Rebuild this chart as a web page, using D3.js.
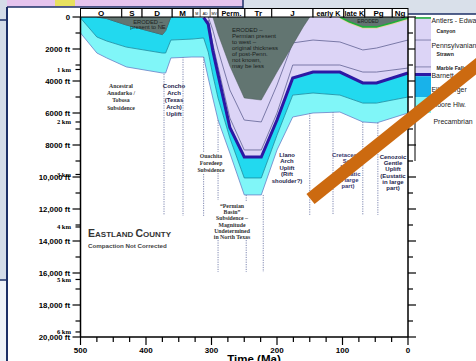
<!DOCTYPE html>
<html><head><meta charset="utf-8">
<script src="https://cdn.jsdelivr.net/npm/d3@7"></script>
<style>body{margin:0;background:#fff}svg{display:block}</style>
</head><body>
<svg id="c" width="476" height="361"></svg>
<script>
// ---- burial history, Eastland County: [age Ma, depth ft] ----
const topEllenburger = [[500,0],[475,0],[460,100],[430,500],[375,1100],[370,850],[362,0],[330,0],[312,30],[305,450],[298,2100],[290,3600],[272,6900],[250,8750],[224,8750],[200,6440],[176,3810],[145,3440],[104,3440],[69,4120],[48,4120],[0,3500]];
const baseEllenburger = [[500,60],[475,1250],[460,1500],[430,1880],[375,2250],[370,2250],[362,1440],[330,1380],[312,1310],[305,2190],[298,3620],[290,5060],[272,7560],[250,10060],[224,10060],[200,7380],[176,4880],[145,4750],[104,4880],[69,5380],[48,5380],[0,5000]];
const topPrecambrian = [[500,1000],[475,2250],[460,2560],[430,3120],[375,3500],[370,3500],[362,2560],[330,2500],[312,2500],[305,3810],[298,5060],[290,6440],[272,8500],[250,11120],[224,11120],[200,8310],[176,6250],[145,6000],[104,5940],[69,6560],[48,6620],[0,6000]];
const canyonBase = [[305,0],[298,810],[290,2060],[272,4560],[250,6440],[224,6560],[200,4250],[176,1620],[145,1440],[104,1560],[69,2060],[48,1940],[0,1440]];
const marbleFallsTop = [[305,190],[298,1690],[290,3120],[272,6310],[250,8310],[224,8310],[200,6000],[176,3000],[145,3000],[104,3000],[69,3440],[48,3440],[0,3190]];
const erodedNE = [[475,0],[460,100],[430,500],[375,1100],[370,850],[362,0]];
const erodedPostPenn = [[305,0],[298,0],[290,1060],[272,3060],[250,5060],[224,5190],[200,3440],[176,1750],[160,620],[150,0]];
const erodedCret = [[104,0],[90,300],[69,620],[48,620],[24,360],[0,60]];

// geologic time scale header
const periods = ["O","S","D","M","","Perm.","Tr","J","early K","late K","Pg","Ng"];
const periodBounds = [500,437,406,360,328,290,249,208,145,98,66,24,0];

// axis ticks
const ftTicks = [0,2000,4000,6000,8000,10000,12000,14000,16000,18000,20000];
const ftLabels = ["0","2000 ft","4000 ft","6000 ft","8000 ft","10,000 ft","12,000 ft","14,000 ft","16,000 ft","18,000 ft","20,000 ft"];
const kmTicks = [1,2,3,4,5,6];
const timeTicks = [500,400,300,200,100,0];

// tectonic episodes: dotted guides [age, top ft, bottom ft]
const guides = [[372.5,3560,12370],[343.5,2500,12430],[312,2500,8430],[312,9810,12430],[290,6440,8440],[290,9750,11440],[290,13940,15940],[247,11120,11560],[247,13940,15940],[221,11120,15940],[150,6000,12370],[114.5,5940,12370],[69,6560,12370],[46,6620,12370]];

// legend
const legendItems = [
  {label:"Antlers - Edwards", ft:190, size:6.9, dx:0},
  {label:"Canyon", ft:870, size:5.2, dx:5},
  {label:"Pennsylvanian", ft:1750, size:6.9, dx:0},
  {label:"Strawn", ft:2250, size:5.2, dx:5},
  {label:"Marble Falls", ft:3180, size:5.2, dx:5},
  {label:"Barnett", ft:3680, size:6.9, dx:0},
  {label:"Ellenburger", ft:4500, size:6.9, dx:0},
  {label:"Moore Hlw.", ft:5460, size:6.9, dx:0},
  {label:"Precambrian", ft:6560, size:6.9, dx:2}
];

const svg = d3.select("#c");
const x = d3.scaleLinear().domain([500,0]).range([80.5,408]);
const y = d3.scaleLinear().domain([0,20000]).range([17,337]);
const sans = "Liberation Sans, Arial, sans-serif";
const serif = "Liberation Serif, Times New Roman, serif";

// page frame
svg.append("rect").attr("x",0).attr("y",0).attr("width",476).attr("height",361).attr("fill","#ffffff");
svg.append("rect").attr("x",0).attr("y",0).attr("width",476).attr("height",7).attr("fill","#e6c4ee");
svg.append("rect").attr("x",55).attr("y",0).attr("width",20).attr("height",6).attr("fill","#e8e060");
svg.append("rect").attr("x",243).attr("y",0).attr("width",233).attr("height",14).attr("fill","#d9e0ea");
svg.append("rect").attr("x",0).attr("y",0).attr("width",7).attr("height",280).attr("fill","#d4dce8");
svg.append("rect").attr("x",0).attr("y",280).attr("width",7).attr("height",81).attr("fill","#eef2f8");
svg.append("line").attr("x1",7).attr("x2",7).attr("y1",7).attr("y2",361).attr("stroke","#1c2f66").attr("stroke-width",2);
svg.append("line").attr("x1",7).attr("x2",243).attr("y1",7).attr("y2",7).attr("stroke","#1c2f66").attr("stroke-width",1.5);
svg.append("line").attr("x1",243).attr("x2",476).attr("y1",14).attr("y2",14).attr("stroke","#1c2f66").attr("stroke-width",1.5);
svg.append("line").attr("x1",243).attr("x2",243).attr("y1",0).attr("y2",14).attr("stroke","#1c2f66").attr("stroke-width",1.5);
svg.append("line").attr("x1",0).attr("x2",7).attr("y1",20).attr("y2",20).attr("stroke","#1c2f66").attr("stroke-width",1.5);
svg.append("line").attr("x1",0).attr("x2",7).attr("y1",280).attr("y2",280).attr("stroke","#1c2f66").attr("stroke-width",1.5);

const g = svg.append("g");
const lerp = (arr, t) => {
  for (let i=0;i<arr.length-1;i++){
    const [a0,d0]=arr[i],[a1,d1]=arr[i+1];
    if (t<=a0 && t>=a1) return d0+(d1-d0)*(a0-t)/(a0-a1);
  }
  return arr[arr.length-1][1];
};
const band = (upper, lower, ages) => d3.area().x(a=>x(a)).y0(a=>y(upper(a))).y1(a=>y(lower(a)))(ages);
const agesOf = (...arrs) => Array.from(new Set(arrs.flatMap(a=>a.map(p=>p[0])))).sort((a,b)=>b-a);

// Cambrian (light cyan) and Ellenburger (cyan) units
const allAges = agesOf(topEllenburger, baseEllenburger, topPrecambrian);
g.append("path").attr("d", band(a=>lerp(baseEllenburger,a), a=>lerp(topPrecambrian,a), allAges)).attr("fill","#80f6f8");
g.append("path").attr("d", band(a=>lerp(topEllenburger,a), a=>lerp(baseEllenburger,a), allAges)).attr("fill","#22d9ef");

// Pennsylvanian and younger (lavender)
const lavAges = allAges.filter(a=>a<=330);
g.append("path").attr("d", band(()=>0, a=>lerp(topEllenburger,a), lavAges)).attr("fill","#dcd4f6");

const line = d3.line().x(p=>x(p[0])).y(p=>y(p[1]));
g.append("path").attr("d", line(canyonBase)).attr("fill","none").attr("stroke","#6e6e9e").attr("stroke-width",0.9);
g.append("path").attr("d", line(marbleFallsTop)).attr("fill","none").attr("stroke","#6e6e9e").attr("stroke-width",0.9);

// Barnett shale
g.append("path").attr("d", line(topEllenburger.filter(p=>p[0]<=312))).attr("fill","none").attr("stroke","#2c18a4").attr("stroke-width",3);

// unit boundaries
g.append("path").attr("d", line(topEllenburger.filter(p=>p[0]>=330))).attr("fill","none").attr("stroke","#1f6f80").attr("stroke-width",0.8);
g.append("path").attr("d", line(baseEllenburger)).attr("fill","none").attr("stroke","#168aa0").attr("stroke-width",0.8);
g.append("path").attr("d", line(topPrecambrian)).attr("fill","none").attr("stroke","#6a80c8").attr("stroke-width",0.8);

// eroded section
[erodedNE, erodedPostPenn, erodedCret].forEach(er => {
  g.append("path").attr("d", band(()=>0, a=>lerp(er,a), er.map(p=>p[0]))).attr("fill","#627571").attr("stroke","#4b5a58").attr("stroke-width",0.5);
});
g.append("path").attr("d", line(erodedCret.map(p=>[p[0],p[1]+60]))).attr("fill","none").attr("stroke","#e6d2a8").attr("stroke-width",1.5);
g.append("path").attr("d", line(erodedCret)).attr("fill","none").attr("stroke","#1fae3a").attr("stroke-width",1.6);

// dotted guides
guides.forEach(([a,d0,d1]) => {
  g.append("line").attr("x1",x(a)).attr("x2",x(a)).attr("y1",y(d0)).attr("y2",y(d1))
    .attr("stroke","#7d86b0").attr("stroke-width",1).attr("stroke-dasharray","1.2,1.2");
});

// annotations
const note = (lines, cx, y0, dy, size, font, color, anchor, weight) => {
  const t = g.append("text").attr("font-family",font).attr("font-size",size).attr("font-weight",weight||"bold")
    .attr("fill",color||"#222").attr("text-anchor",anchor||"middle");
  lines.forEach((s,i)=>t.append("tspan").attr("x",cx).attr("y",y0+i*dy).text(s));
};
note(["ERODED –","present to NE"], 148, 23.5, 5.6, 5.8, sans, "#1a1f1e", "middle", "normal");
note(["ERODED –","Permian present","to west –","original thickness","of post-Penn.","not known,","may be less"], 232, 32, 6, 6, sans, "#1a1f1e", "start", "normal");
note(["ERODED"], 368, 22.5, 6, 5, sans, "#1a1f1e", "middle", "normal");
note(["Ancestral","Anadarko /","Tobosa","Subsidence"], 121, 88, 7.2, 5.8, serif, "#333");
note(["Concho","Arch","(Texas","Arch)","Uplift"], 174, 88, 7, 6, sans, "#24244c");
note(["Ouachita","Foredeep","Subsidence"], 211, 158, 7, 5.7, serif, "#333");
note(["“Permian","Basin”","Subsidence –","Magnitude","Undetermined","in North Texas"], 232, 208, 6.2, 5.8, serif, "#333");
note(["Llano","Arch","Uplift","(Rift","shoulder?)"], 287, 157, 6.4, 5.9, sans, "#24244c");
note(["Cretaceous","Sea","Level","(Eustatic","in large","part)"], 348, 157, 6.2, 5.9, sans, "#3a3a70");
note(["Cenozoic","Gentle","Uplift","(Eustatic","in large","part)"], 393, 159, 6.2, 6, sans, "#24244c");

const title = g.append("text").attr("x",88).attr("y",237).attr("font-family",sans).attr("font-weight","bold").attr("fill","#333");
title.append("tspan").attr("font-size",10.5).text("E");
title.append("tspan").attr("font-size",8).text("ASTLAND ");
title.append("tspan").attr("font-size",10.5).text("C");
title.append("tspan").attr("font-size",8).text("OUNTY");
g.append("text").attr("x",88).attr("y",247.5).attr("font-family",sans).attr("font-size",6.2).attr("font-weight","bold").attr("fill","#444").text("Compaction Not Corrected");

// header (time scale)
periods.forEach((p,i) => {
  const x0 = x(periodBounds[i]), x1 = x(periodBounds[i+1]);
  g.append("rect").attr("x",x0).attr("y",8.5).attr("width",x1-x0).attr("height",8.5).attr("fill","#fff").attr("stroke","#000").attr("stroke-width",1);
  g.append("text").attr("x",(x0+x1)/2).attr("y",15.5).attr("text-anchor","middle").attr("font-family",sans)
    .attr("font-size",p.length>3?7.2:8).attr("font-weight","bold").text(p);
});
const pm = x(periodBounds[4]);
g.append("line").attr("x1",pm+7).attr("x2",pm+7).attr("y1",8.5).attr("y2",17).attr("stroke","#000").attr("stroke-width",0.6);
g.append("line").attr("x1",pm+17).attr("x2",pm+17).attr("y1",8.5).attr("y2",17).attr("stroke","#000").attr("stroke-width",0.6);
g.append("text").attr("x",pm+3.5).attr("y",14.5).attr("text-anchor","middle").attr("font-family",sans).attr("font-size",3.6).text("M");
g.append("text").attr("x",pm+12).attr("y",14.5).attr("text-anchor","middle").attr("font-family",sans).attr("font-size",3.6).text("AD");
g.append("text").attr("x",pm+21).attr("y",14.5).attr("text-anchor","middle").attr("font-family",sans).attr("font-size",3.6).text("MV");

// left depth axis
g.append("line").attr("x1",x(500)).attr("x2",x(500)).attr("y1",y(0)).attr("y2",y(20000)).attr("stroke","#000").attr("stroke-width",1.5);
d3.range(0,20001,1000).forEach(d => {
  const major = d%2000===0;
  g.append("line").attr("x1",x(500)-(major?8:5)).attr("x2",x(500)).attr("y1",y(d)).attr("y2",y(d)).attr("stroke","#000").attr("stroke-width",1.2);
});
ftTicks.forEach((d,i) => {
  g.append("text").attr("x",70).attr("y",y(d)+2.7).attr("text-anchor","end").attr("font-family",sans).attr("font-size",7.8).attr("font-weight","bold").text(ftLabels[i]);
});
kmTicks.forEach(k => {
  const d = k*3280.84;
  g.append("line").attr("x1",x(500)-5).attr("x2",x(500)).attr("y1",y(d)).attr("y2",y(d)).attr("stroke","#000").attr("stroke-width",1.2);
  g.append("text").attr("x",71).attr("y",y(d)+2.2).attr("text-anchor","end").attr("font-family",serif).attr("font-size",6.6).attr("font-weight","bold").text(k+" km");
});

// time axis
g.append("line").attr("x1",x(500)).attr("x2",x(0)).attr("y1",y(20000)).attr("y2",y(20000)).attr("stroke","#000").attr("stroke-width",1.5);
d3.range(0,501,25).forEach(a => {
  const major = a%100===0;
  g.append("line").attr("x1",x(a)).attr("x2",x(a)).attr("y1",y(20000)).attr("y2",y(20000)+(major?8:5)).attr("stroke","#000").attr("stroke-width",1.2);
});
timeTicks.forEach(a => {
  g.append("text").attr("x",x(a)).attr("y",353).attr("text-anchor","middle").attr("font-family",sans).attr("font-size",8).attr("font-weight","bold").text(a);
});
g.append("text").attr("x",254).attr("y",363).attr("text-anchor","middle").attr("font-family",sans).attr("font-size",11.5).attr("font-weight","bold").text("Time (Ma)");

// right depth axis
g.append("line").attr("x1",x(0)).attr("x2",x(0)).attr("y1",y(0)).attr("y2",y(20000)).attr("stroke","#000").attr("stroke-width",1.5);
d3.range(0,20001,1000).forEach(d => {
  const major = d%2000===0;
  g.append("line").attr("x1",x(0)).attr("x2",x(0)+(major?8:5)).attr("y1",y(d)).attr("y2",y(d)).attr("stroke","#000").attr("stroke-width",1.2);
});

// legend column
const lx = 415, lw = 16;
const sw = (d0,d1,fill) => g.append("rect").attr("x",lx).attr("y",y(d0)).attr("width",lw).attr("height",y(d1)-y(d0)).attr("fill",fill);
sw(0,3500,"#dcd4f6");
sw(3500,3700,"#2c18a4");
sw(3700,5000,"#18b2ea");
sw(5000,6000,"#80f6f8");
[1440,3120].forEach(d => g.append("line").attr("x1",lx).attr("x2",lx+lw).attr("y1",y(d)).attr("y2",y(d)).attr("stroke","#6e6e9e").attr("stroke-width",0.8));
g.append("line").attr("x1",lx).attr("x2",lx+lw).attr("y1",y(60)).attr("y2",y(60)).attr("stroke","#1fae3a").attr("stroke-width",1.6);
g.append("line").attr("x1",lx).attr("x2",lx).attr("y1",y(0)).attr("y2",y(9000)).attr("stroke","#000").attr("stroke-width",1);
legendItems.forEach(it => {
  g.append("text").attr("x",lx+lw+0.5+it.dx).attr("y",y(it.ft)+2.5).attr("font-family",sans).attr("font-size",it.size)
    .attr("font-weight",it.size<6?"bold":"normal").attr("fill","#222").text(it.label);
});

// overlay stroke across the right of the chart
svg.append("line").attr("x1",310.5).attr("y1",199).attr("x2",500).attr("y2",47).attr("stroke","#cc6a10").attr("stroke-width",13);
</script>
</body></html>
